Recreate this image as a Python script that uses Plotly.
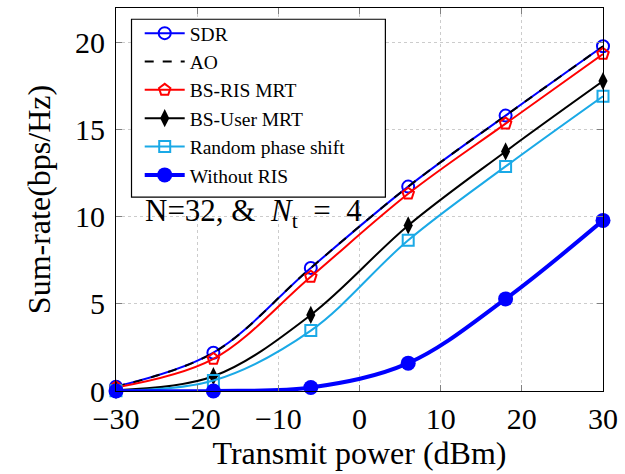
import plotly.graph_objects as go

# Transmit power sweep (dBm)
power_dbm = [-30, -18, -6, 6, 18, 30]

# Sum-rate (bps/Hz) for each scheme
rate_sdr = [0.25, 2.2, 7.07, 11.74, 15.82, 19.8]
rate_ao = [0.25, 2.2, 7.07, 11.74, 15.82, 19.8]
rate_bs_ris_mrt = [0.2, 1.84, 6.56, 11.33, 15.36, 19.36]
rate_bs_user_mrt = [0.05, 0.85, 4.37, 9.51, 13.76, 17.8]
rate_random_phase = [0.02, 0.6, 3.47, 8.66, 12.9, 16.93]
rate_without_ris = [0.0, 0.0, 0.2, 1.6, 5.29, 9.8]

x_ticks = [-30, -20, -10, 0, 10, 20, 30]
y_ticks = [0, 5, 10, 15, 20]

FONT = "Liberation Serif"
CYAN = "#1aa9e6"

W, H = 625, 474
M_L, M_R, M_T, M_B = 116, 16, 7, 83
PW, PH = W - M_L - M_R, H - M_T - M_B


def px_to_paper(px_x, px_y):
    return (px_x - M_L) / PW, 1 - (px_y - M_T) / PH


fig = go.Figure()

fig.add_trace(go.Scatter(
    x=power_dbm, y=rate_sdr, name="SDR", mode="lines+markers",
    line=dict(color="#0000ff", width=2, shape="spline"),
    marker=dict(symbol="circle-open", size=12, color="#0000ff", line=dict(width=2)),
))
fig.add_trace(go.Scatter(
    x=power_dbm, y=rate_ao, name="AO", mode="lines",
    line=dict(color="black", width=2, dash="dash", shape="spline"),
))
fig.add_trace(go.Scatter(
    x=power_dbm, y=rate_bs_ris_mrt, name="BS-RIS MRT", mode="lines+markers",
    line=dict(color="#ff0000", width=2, shape="spline"),
    marker=dict(symbol="pentagon-open", size=12, color="#ff0000", line=dict(width=2)),
))
fig.add_trace(go.Scatter(
    x=power_dbm, y=rate_bs_user_mrt, name="BS-User MRT", mode="lines+markers",
    line=dict(color="black", width=2, shape="spline"),
    marker=dict(symbol="diamond-tall", size=13, color="black"),
))
fig.add_trace(go.Scatter(
    x=power_dbm, y=rate_random_phase, name="Random phase shift", mode="lines+markers",
    line=dict(color=CYAN, width=2, shape="spline"),
    marker=dict(symbol="square-open", size=11, color=CYAN, line=dict(width=2)),
))
fig.add_trace(go.Scatter(
    x=power_dbm, y=rate_without_ris, name="Without RIS", mode="lines+markers",
    line=dict(color="#0000ff", width=4, shape="spline"),
    marker=dict(symbol="circle", size=15, color="#0000ff"),
))
fig.update_traces(cliponaxis=False)

fig.add_annotation(
    x=-26.7, y=10.2, xref="x", yref="y", xanchor="left", yanchor="middle",
    text="N=32, &amp;  <i>N</i><sub>t</sub>  =  4", showarrow=False,
    font=dict(family=FONT, size=31, color="black"),
)

# Legend frame
bx0, by0 = px_to_paper(131.7, 196.7)
bx1, by1 = px_to_paper(388.7, 18.3)
fig.add_shape(
    type="rect", xref="paper", yref="paper", x0=bx0, y0=by0, x1=bx1, y1=by1,
    line=dict(color="black", width=1.2), fillcolor="white", layer="above",
)

axis_common = dict(
    showline=True, linecolor="black", linewidth=1, mirror="allticks",
    ticks="inside", ticklen=6, tickcolor="#808080", tickwidth=1,
    showgrid=True, gridcolor="#cccccc", griddash="dot", gridwidth=1,
    zeroline=False, tickfont=dict(family=FONT, size=30, color="black"),
)

fig.update_xaxes(
    range=[-30, 30], tickvals=x_ticks, ticklabelstandoff=1,
    title=dict(text="Transmit power (dBm)", font=dict(family=FONT, size=32, color="black"), standoff=4),
    **axis_common,
)
fig.update_yaxes(
    range=[0, 22], tickvals=y_ticks, ticklabelstandoff=4,
    title=dict(text="Sum-rate(bps/Hz)", font=dict(family=FONT, size=32, color="black"), standoff=14),
    **axis_common,
)

lx, ly = px_to_paper(140, 13)
fig.update_layout(
    width=W, height=H,
    margin=dict(l=M_L, r=M_R, t=M_T, b=M_B),
    paper_bgcolor="white", plot_bgcolor="white",
    font=dict(family=FONT, color="black"),
    legend=dict(
        x=lx, y=ly, xanchor="left", yanchor="top",
        bgcolor="rgba(0,0,0,0)", borderwidth=0,
        font=dict(family=FONT, size=19.5, color="black"),
        itemwidth=40, tracegroupgap=0,
    ),
    showlegend=True,
)

fig.write_html("out.html")
